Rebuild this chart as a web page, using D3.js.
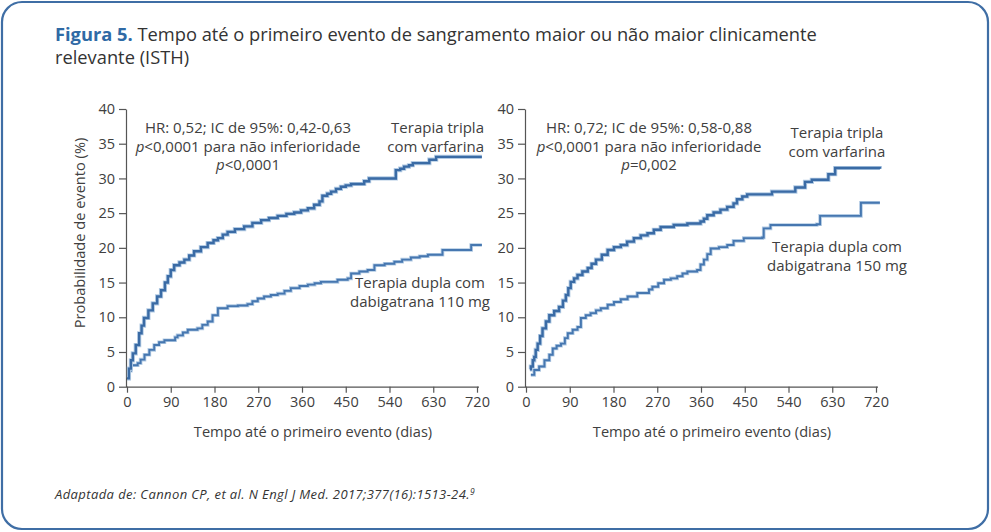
<!DOCTYPE html>
<html>
<head>
<meta charset="utf-8">
<script src="https://cdn.jsdelivr.net/npm/d3@7"></script>
<style>
  body { margin: 0; background: #fff; }
  svg text { font-family: "Open Sans", Lato, sans-serif; fill: #404040; }
</style>
</head>
<body>
<div id="chart"></div>
<script>
var svgWidth = 991;
var svgHeight = 532;

// tick labels
var xTicks = [0, 90, 180, 270, 360, 450, 540, 630, 720];
var yTicks = [0, 5, 10, 15, 20, 25, 30, 35, 40];

// left panel: [day, %]
var tripleLeft = [[0,1.2],[4,2.6],[8,3.8],[12,4.8],[18,6],[25,7.7],[30,8.8],[35,9.9],[44,11],[53,12],[62,13],[70,13.9],[78,15],[84,15.9],[90,16.8],[97,17.5],[108,17.9],[118,18.3],[128,18.9],[138,19.5],[152,20.1],[166,20.7],[178,21.1],[187,21.4],[197,21.9],[207,22.3],[222,22.7],[241,23.1],[258,23.6],[276,24],[292,24.3],[310,24.6],[328,24.9],[344,25.1],[358,25.4],[372,25.7],[385,26.2],[396,26.7],[402,27.5],[412,27.8],[420,28.1],[430,28.5],[440,28.8],[450,29],[461,29.2],[481,29.2],[488,29.6],[498,30],[547,30],[553,31.2],[562,31.4],[570,31.7],[580,31.9],[588,32.2],[615,32.2],[622,32.7],[636,33.1],[730,33.1]];
var dualLeft = [[0,1.2],[4,2.3],[8,3.1],[22,3.4],[28,3.9],[36,4.6],[46,5.3],[56,6],[66,6.4],[77,6.7],[94,6.7],[99,7.1],[104,7.4],[115,7.8],[125,8.2],[145,8.4],[155,8.9],[166,9.4],[176,10.3],[187,11.3],[207,11.6],[228,11.7],[248,11.9],[258,12.3],[269,12.7],[282,13],[296,13.2],[310,13.4],[324,13.8],[337,14.2],[355,14.5],[372,14.7],[386,14.9],[399,15.1],[433,15.4],[454,15.6],[461,16.3],[478,16.6],[495,16.8],[509,17.5],[530,17.7],[550,18],[566,18.3],[584,18.6],[602,18.8],[619,19],[649,19.7],[704,19.7],[708,20.4],[730,20.4]];

// right panel: [day, %]
var tripleRight = [[8,2.5],[10,2.9],[14,3.8],[17,4.3],[20,5.3],[24,6.2],[29,7.3],[34,8.4],[41,9.4],[48,10.3],[58,10.9],[68,11.5],[76,12.4],[82,13.2],[87,14.2],[92,15.1],[99,15.6],[106,16.1],[116,16.6],[127,17.1],[135,17.7],[144,18.3],[156,19],[168,19.7],[181,20.1],[195,20.4],[208,20.9],[222,21.4],[236,21.8],[250,22.1],[263,22.6],[277,23],[304,23.3],[332,23.5],[359,23.8],[366,24.2],[373,24.7],[386,25.1],[400,25.5],[414,25.9],[427,26.4],[434,27],[445,27.4],[455,27.7],[503,27.7],[506,28.1],[540,28.1],[554,28.7],[571,28.7],[574,29.5],[588,29.8],[619,29.8],[622,30.6],[631,30.6],[636,31.5],[728,31.4]];
var dualRight = [[10,1.7],[17,2.4],[27,2.9],[38,3.8],[48,4.6],[55,5.5],[63,5.9],[72,6.2],[80,7],[86,7.7],[96,8.2],[106,8.6],[113,9.9],[123,10.3],[133,10.6],[144,11],[154,11.3],[168,11.8],[181,12.2],[195,12.6],[209,13],[229,13.5],[246,13.5],[253,14],[260,14.4],[272,14.9],[284,15.4],[298,15.6],[311,15.9],[322,16.3],[332,16.6],[352,16.8],[359,17.6],[366,18.3],[373,19.1],[380,19.9],[397,20.1],[414,20.4],[427,21],[448,21.4],[486,21.5],[489,22.8],[503,23.3],[598,23.4],[605,24.6],[687,24.6],[689,26.5],[728,26.5]];

var panels = [
  { left: 126, tri: tripleLeft, dual: dualLeft, yLabel: true,
    stats: ["HR: 0,52; IC de 95%: 0,42-0,63", "p<0,0001 para não inferioridade", "p<0,0001"], statX: 248,
    triLabelX: 484, triAnchor: "end", triY: 133,
    dualLabel: ["Terapia dupla com", "dabigatrana 110 mg"], dualX: 420, dualY: 288 },
  { left: 525, tri: tripleRight, dual: dualRight, yLabel: false,
    stats: ["HR: 0,72; IC de 95%: 0,58-0,88", "p<0,0001 para não inferioridade", "p=0,002"], statX: 649,
    triLabelX: 837, triAnchor: "middle", triY: 138,
    dualLabel: ["Terapia dupla com", "dabigatrana 150 mg"], dualX: 837, dualY: 252 }
];

var svg = d3.select("#chart")
  .append("svg")
  .attr("width", svgWidth)
  .attr("height", svgHeight);

// frame
svg.append("rect")
  .attr("x", 2).attr("y", 2)
  .attr("width", 986).attr("height", 527)
  .attr("rx", 20)
  .attr("fill", "none")
  .attr("stroke", "#3f6ea5")
  .attr("stroke-width", 2.2);

// title
var title = svg.append("text")
  .attr("x", 55).attr("y", 41)
  .style("font-size", "18.3px");
title.append("tspan")
  .style("font-weight", "bold")
  .style("fill", "#2f6aa5")
  .text("Figura 5.");
title.append("tspan")
  .style("fill", "#333")
  .text(" Tempo até o primeiro evento de sangramento maior ou não maior clinicamente");
svg.append("text")
  .attr("x", 55).attr("y", 64)
  .style("font-size", "18.3px")
  .style("fill", "#333")
  .text("relevante (ISTH)");

var top0 = 109, bottom0 = 386.7;

panels.forEach(function(p) {
  var x = d3.scaleLinear().domain([0, 720]).range([p.left + 1, p.left + 351]);
  var y = d3.scaleLinear().domain([0, 40]).range([bottom0, top0]);

  var g = svg.append("g");

  // x axis
  var xAxis = g.append("g")
    .attr("transform", `translate(0, ${bottom0})`)
    .call(d3.axisBottom(x).tickValues(xTicks).tickSize(6).tickSizeOuter(0).tickPadding(4));
  xAxis.select(".domain").attr("d", `M${p.left},0.5H${p.left + 353}`);

  // y axis
  var yAxis = g.append("g")
    .attr("transform", `translate(${p.left}, 0)`)
    .call(d3.axisLeft(y).tickValues(yTicks).tickSize(7).tickSizeOuter(0).tickPadding(4));

  g.selectAll(".domain").attr("stroke", "#555").attr("stroke-width", 1.2);
  g.selectAll(".tick line").attr("stroke", "#555").attr("stroke-width", 1.2);
  g.selectAll(".tick text")
    .style("font-size", "14.5px")
    .style("font-family", "'Open Sans', sans-serif")
    .attr("fill", "#404040");

  g.append("text")
    .attr("x", p.left + 187).attr("y", 437)
    .attr("text-anchor", "middle")
    .style("font-size", "14.6px")
    .text("Tempo até o primeiro evento (dias)");

  if (p.yLabel) {
    g.append("text")
      .attr("transform", "translate(85, 233) rotate(-90)")
      .attr("text-anchor", "middle")
      .style("font-size", "14.6px")
      .text("Probabilidade de evento (%)");
  }

  var line = d3.line()
    .x(d => x(d[0]))
    .y(d => y(d[1]))
    .curve(d3.curveStepAfter);

  // light halo then line
  [p.dual, p.tri].forEach(function(series, i) {
    g.append("path")
      .datum(series)
      .attr("fill", "none")
      .attr("stroke", "#b3cbe4")
      .attr("stroke-width", i ? 4.2 : 3.6)
      .attr("d", line);
    g.append("path")
      .datum(series)
      .attr("fill", "none")
      .attr("stroke", i ? "#3a6ba5" : "#4677b0")
      .attr("stroke-width", i ? 2.4 : 1.9)
      .attr("d", line);
  });

  // stats text
  p.stats.forEach(function(s, i) {
    var t = g.append("text")
      .attr("x", p.statX).attr("y", 133 + i * 18.5)
      .attr("text-anchor", "middle")
      .style("font-size", "15px");
    if (i > 0) {
      var m = s.match(/^p(.*)$/);
      t.append("tspan").style("font-style", "italic").text("p");
      t.append("tspan").text(m[1]);
    } else {
      t.text(s);
    }
  });

  ["Terapia tripla", "com varfarina"].forEach(function(s, i) {
    g.append("text")
      .attr("x", p.triLabelX).attr("y", p.triY + i * 19)
      .attr("text-anchor", p.triAnchor)
      .style("font-size", "15px")
      .text(s);
  });

  p.dualLabel.forEach(function(s, i) {
    g.append("text")
      .attr("x", p.dualX).attr("y", p.dualY + i * 19)
      .attr("text-anchor", "middle")
      .style("font-size", "15px")
      .text(s);
  });
});

// source
var src = svg.append("text")
  .attr("x", 55).attr("y", 499)
  .style("font-size", "13px")
  .style("letter-spacing", "0.4px")
  .style("font-style", "italic")
  .style("fill", "#333")
  .text("Adaptada de: Cannon CP, et al. N Engl J Med. 2017;377(16):1513-24.");
src.append("tspan")
  .attr("dy", -4)
  .style("font-size", "8.5px")
  .text("9");
</script>
</body>
</html>
